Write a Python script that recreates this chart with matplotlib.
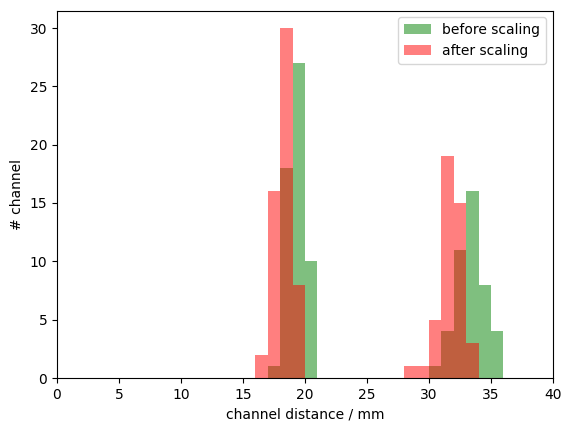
import numpy as np
import matplotlib
matplotlib.use("Agg")
import matplotlib.pyplot as plt

# bin left edges (mm) and counts per 1 mm bin
before_bins = [17, 18, 19, 20, 30, 31, 32, 33, 34, 35]
before_counts = [1, 18, 27, 10, 1, 4, 11, 16, 8, 4]
after_bins = [16, 17, 18, 19, 28, 29, 30, 31, 32, 33]
after_counts = [2, 16, 30, 8, 1, 1, 5, 19, 15, 3]

edges = np.arange(0, 41, 1)

fig = plt.figure(figsize=(5.71, 4.32), dpi=100)
ax = fig.add_axes([57/571, 1-378/432, (553-57)/571, (378-10.5)/432])

ax.hist(np.array(before_bins) + 0.5, bins=edges, weights=before_counts,
        color='g', alpha=0.5, label='before scaling')
ax.hist(np.array(after_bins) + 0.5, bins=edges, weights=after_counts,
        color='r', alpha=0.5, label='after scaling')

ax.set_xlim(0, 40)
ax.set_xlabel('channel distance / mm')
ax.set_ylabel('# channel')
ax.legend(loc='upper right')

fig.savefig('out.png', dpi=100)
